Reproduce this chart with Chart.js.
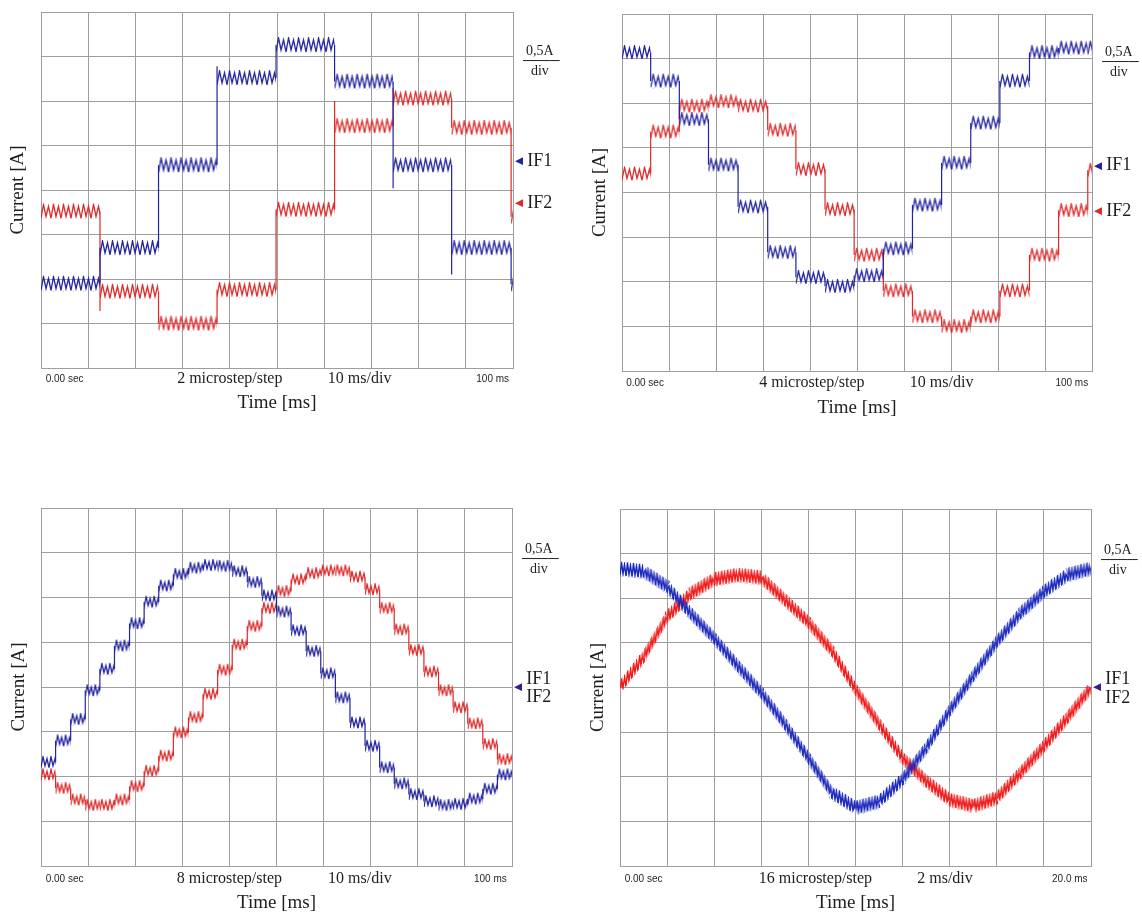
<!DOCTYPE html>
<html>
<head>
<meta charset="utf-8">
<script src="https://cdn.jsdelivr.net/npm/chart.js@4.4.1/dist/chart.umd.min.js"></script>
<style>
  html, body { margin: 0; padding: 0; background: #fff; width: 1142px; height: 914px; overflow: hidden; }
  canvas { position: absolute; }
</style>
</head>
<body>
<canvas id="c1" style="left:0;top:0" width="571" height="418"></canvas>
<canvas id="c2" style="left:571px;top:0" width="571" height="421"></canvas>
<canvas id="c3" style="left:0;top:457px" width="571" height="457"></canvas>
<canvas id="c4" style="left:571px;top:457px" width="571" height="457"></canvas>
<script>
// ---- panel 1: 2 microstep/step, 10 ms/div (levels in A, 0.5 A/div) ----
const p1Times = [0, 12.5, 24.9, 37.3, 49.8, 62.2, 74.6, 87.0, 99.6, 100];
const p1IF1 = [-1.05, -0.65, 0.28, 1.26, 1.63, 1.22, 0.28, -0.65, -1.06];
const p1IF2 = [-0.24, -1.14, -1.50, -1.12, -0.22, 0.72, 1.03, 0.70, -0.30];
// overshoot seen on the edge that enters each level (null = none)
const p1IF1Spikes = [null, null, null, 1.39, null, null, 0.02, -0.95, null];
const p1IF2Spikes = [null, -1.36, null, null, null, 1.00, 1.15, null, null];

// ---- panel 2: 4 microstep/step ----
const p2Times = [0, 6.1, 12.2, 18.4, 24.7, 31.0, 37.0, 43.2, 49.4, 55.6, 61.8, 68.0, 74.2, 80.4, 86.7, 92.9, 99.1, 100];
const p2IF1 = [1.57, 1.25, 0.82, 0.31, -0.16, -0.67, -0.95, -1.05, -0.93, -0.63, -0.14, 0.33, 0.78, 1.25, 1.57, 1.62, 1.62];
const p2IF2 = [0.21, 0.68, 0.97, 1.02, 0.97, 0.70, 0.26, -0.19, -0.70, -1.10, -1.39, -1.50, -1.39, -1.10, -0.70, -0.20, 0.25];

// ---- panel 3: 8 microstep/step ----
const p3Times = [0, 3.1, 6.3, 9.4, 12.5, 15.6, 18.8, 21.9, 25, 28.1, 31.3, 34.4, 37.5, 40.6, 43.8, 46.9,
                 50, 53.1, 56.3, 59.4, 62.5, 65.6, 68.8, 71.9, 75, 78.1, 81.3, 84.4, 87.5, 90.6, 93.8, 96.9, 100];
const p3IF1 = [-0.84, -0.60, -0.36, -0.04, 0.20, 0.46, 0.71, 0.95, 1.13, 1.26, 1.33, 1.36, 1.35, 1.29, 1.17, 1.02,
               0.84, 0.63, 0.40, 0.15, -0.12, -0.40, -0.66, -0.90, -1.08, -1.20, -1.28, -1.32, -1.31, -1.25, -1.14, -0.98];
const p3IF2 = [-0.98, -1.13, -1.26, -1.32, -1.32, -1.26, -1.11, -0.94, -0.77, -0.51, -0.34, -0.08, 0.19, 0.47, 0.68, 0.88,
               1.07, 1.20, 1.27, 1.30, 1.30, 1.23, 1.09, 0.88, 0.64, 0.41, 0.17, -0.04, -0.23, -0.41, -0.64, -0.81];

// ---- panel 4: 16 microstep/step, 2 ms/div ----
const p4Times = [0, 1, 2, 3, 4, 5, 6, 7, 8, 9, 10, 11, 12, 13, 14, 15, 16, 17, 18, 19, 20];
const p4IF1 = [1.33, 1.30, 1.13, 0.83, 0.55, 0.24, -0.06, -0.41, -0.79, -1.18, -1.35, -1.28, -1.03, -0.68, -0.26, 0.13, 0.51, 0.83, 1.07, 1.26, 1.33];
const p4IF2 = [0.00, 0.34, 0.79, 1.05, 1.21, 1.26, 1.23, 0.98, 0.73, 0.41, -0.02, -0.41, -0.79, -1.05, -1.26, -1.33, -1.24, -0.96, -0.66, -0.34, 0.00];

// bottom row texts and where they sit (ms)
const p1TickPos = [5, 40, 67.5, 95.7];
const p1TickText = ['0.00 sec', '2 microstep/step', '10 ms/div', '100 ms'];
const p2TickPos = [4.9, 40.4, 68, 95.7];
const p2TickText = ['0.00 sec', '4 microstep/step', '10 ms/div', '100 ms'];
const p3TickPos = [5, 40, 67.7, 95.4];
const p3TickText = ['0.00 sec', '8 microstep/step', '10 ms/div', '100 ms'];
const p4TickPos = [1.0, 8.3, 13.8, 19.1];
const p4TickText = ['0.00 sec', '16 microstep/step', '2 ms/div', '20.0 ms'];

// right side: scale note and channel zero markers (A)
const scaleNote = ['0,5A', '\u2500\u2500\u2500\u2500', 'div'];
const p1RightLevels = [1.45, 0.32, -0.15];
const p2RightLevels = [1.46, 0.30, -0.21];
const p3RightLevels = [1.43, 0.09, -0.12];
const p4RightLevels = [1.43, 0.09, -0.12];
const rightText = [scaleNote, 'IF1', 'IF2'];
const p1Markers = [0.32, -0.15];
const p2Markers = [0.30, -0.21];
const p3Markers = [0];
const p4Markers = [0];

const SERIF = "'Liberation Serif', 'Times New Roman', serif";
const NARROW = "'Liberation Sans Narrow', 'Liberation Sans', sans-serif";
const GRID = '#9e9e9e', INK = '#1e1e1e';
const BLUE = '#23239e', RED = '#dc2a2a', BLUE4 = '#1a28bc', RED4 = '#f01818', BOTH = '#3b1a8e';

function staircase(times, levels, spikes) {
  const pts = [];
  levels.forEach((v, k) => {
    if (spikes && spikes[k] != null) pts.push({x: times[k], y: spikes[k]});
    pts.push({x: times[k], y: v}, {x: times[k + 1], y: v});
  });
  return pts;
}
function trace(times, vals) { return times.map((t, i) => ({x: t, y: vals[i]})); }

// chopper ripple drawn as a zig-zag stroke pattern along each flat/sloped piece
function rippleTile(color, period, height, lw) {
  const c = document.createElement('canvas');
  c.width = period * 2; c.height = height;
  const g = c.getContext('2d');
  g.strokeStyle = color; g.lineWidth = lw;
  g.beginPath();
  g.moveTo(0, height - 1);
  g.lineTo(period * 0.5, 1);
  g.lineTo(period, height - 3);
  g.lineTo(period * 1.5, 3);
  g.lineTo(period * 2, height - 1);
  g.stroke();
  return c;
}
function rippleSegment(color, tile) {
  const h = tile.height;
  const jump = c => Math.abs(c.p1.x - c.p0.x) < 0.5;
  const slope = c => (c.p1.y - c.p0.y) / (c.p1.x - c.p0.x);
  return {
    borderColor: c => {
      if (jump(c)) return color;
      const pat = tile.getContext('2d').createPattern(tile, 'repeat');
      pat.setTransform(new DOMMatrix([1, slope(c), 0, 1, c.p0.x, c.p0.y - h / 2]));
      return pat;
    },
    borderWidth: c => jump(c) ? 1.2 : h / Math.sqrt(1 + slope(c) * slope(c))
  };
}

function makeChart(id, p) {
  const cv = document.getElementById(id);
  const W = cv.width, H = cv.height;
  const big = {family: SERIF, size: 19};
  return new Chart(cv, {
    type: 'line',
    data: {
      datasets: p.series.map(s => ({
        data: s.points, borderColor: s.color, borderWidth: 1, pointRadius: 0, tension: 0,
        segment: rippleSegment(s.color, rippleTile(s.color, p.ripple[0], p.ripple[1], p.ripple[2]))
      }))
    },
    options: {
      responsive: false, animation: false, events: [],
      layout: {padding: {top: p.plot.t, left: 0, right: 0, bottom: 0}, autoPadding: false},
      plugins: {legend: {display: false}, tooltip: {enabled: false}},
      scales: {
        x: {
          type: 'linear', position: 'bottom', weight: 0, min: 0, max: p.xMax,
          ticks: {display: false, stepSize: p.xMax / 10},
          grid: {color: GRID, drawTicks: false}, border: {color: GRID},
          afterFit: a => { a.height = 0; }
        },
        xt: {
          type: 'linear', position: 'bottom', weight: 1, min: 0, max: p.xMax,
          afterBuildTicks: a => { a.ticks = p.tickPos.map(v => ({value: v})); },
          ticks: {
            autoSkip: false, maxRotation: 0, minRotation: 0, color: INK,
            padding: p.labelY - p.plot.b - 9,
            callback: (v, i) => p.tickText[i],
            font: c => (c.index === 0 || c.index === p.tickText.length - 1)
              ? {family: NARROW, size: 10, lineHeight: '18px'}
              : {family: SERIF, size: 16, lineHeight: '18px'}
          },
          grid: {display: false, drawTicks: false}, border: {display: false},
          title: {display: true, text: 'Time [ms]', color: INK, font: big,
                  padding: {top: 0, bottom: Math.max(0, H - p.titleY - 11.4)}},
          afterFit: a => { a.height = H - p.plot.b; }
        },
        y: {
          type: 'linear', position: 'left', min: -2, max: 2,
          ticks: {display: false, stepSize: 0.5},
          grid: {color: GRID, drawTicks: false}, border: {color: GRID},
          title: {display: true, text: 'Current [A]', color: INK, font: big,
                  padding: {top: p.yTitleX - 11.4, bottom: 0}},
          afterFit: a => { a.width = p.plot.l; }
        },
        yM: {
          type: 'linear', position: 'right', weight: 0, min: -2, max: 2,
          afterBuildTicks: a => { a.ticks = p.markers.map(v => ({value: v})); },
          ticks: {autoSkip: false, padding: 2, callback: () => '\u25C0',
                  color: c => p.markerColors[c.index], font: {family: 'DejaVu Sans', size: 11}},
          grid: {display: false, drawTicks: false}, border: {display: false},
          afterFit: a => { a.width = 10; }
        },
        yR: {
          type: 'linear', position: 'right', weight: 1, min: -2, max: 2,
          afterBuildTicks: a => { a.ticks = p.rightLevels.map(v => ({value: v})); },
          ticks: {
            autoSkip: false, crossAlign: 'center', padding: -3, color: INK,
            callback: (v, i) => rightText[i],
            font: c => c.index === 0 ? {family: SERIF, size: 14, lineHeight: '10px'} : {family: SERIF, size: 18}
          },
          grid: {display: false, drawTicks: false}, border: {display: false},
          afterFit: a => { a.width = W - p.plot.r - 10; }
        }
      }
    }
  });
}

makeChart('c1', {
  plot: {l: 41, r: 513, t: 12, b: 368}, labelY: 379, titleY: 403, yTitleX: 18, xMax: 100,
  tickPos: p1TickPos, tickText: p1TickText, rightLevels: p1RightLevels,
  markers: p1Markers, markerColors: [BLUE, RED], ripple: [5, 16, 1.3],
  series: [{points: staircase(p1Times, p1IF1, p1IF1Spikes), color: BLUE},
           {points: staircase(p1Times, p1IF2, p1IF2Spikes), color: RED}]
});
makeChart('c2', {
  plot: {l: 51, r: 521, t: 14, b: 371}, labelY: 383, titleY: 408, yTitleX: 29, xMax: 100,
  tickPos: p2TickPos, tickText: p2TickText, rightLevels: p2RightLevels,
  markers: p2Markers, markerColors: [BLUE, RED], ripple: [5, 15, 1.3],
  series: [{points: staircase(p2Times, p2IF1), color: BLUE}, {points: staircase(p2Times, p2IF2), color: RED}]
});
makeChart('c3', {
  plot: {l: 41, r: 512, t: 51, b: 409}, labelY: 422, titleY: 446, yTitleX: 19, xMax: 100,
  tickPos: p3TickPos, tickText: p3TickText, rightLevels: p3RightLevels,
  markers: p3Markers, markerColors: [BOTH], ripple: [4, 13, 1.3],
  series: [{points: staircase(p3Times, p3IF1), color: BLUE}, {points: staircase(p3Times, p3IF2), color: RED}]
});
makeChart('c4', {
  plot: {l: 49, r: 520, t: 52, b: 409}, labelY: 422, titleY: 446, yTitleX: 27, xMax: 20,
  tickPos: p4TickPos, tickText: p4TickText, rightLevels: p4RightLevels,
  markers: p4Markers, markerColors: [BOTH], ripple: [3, 15, 1.5],
  series: [{points: trace(p4Times, p4IF1), color: BLUE4}, {points: trace(p4Times, p4IF2), color: RED4}]
});
</script>
</body>
</html>
